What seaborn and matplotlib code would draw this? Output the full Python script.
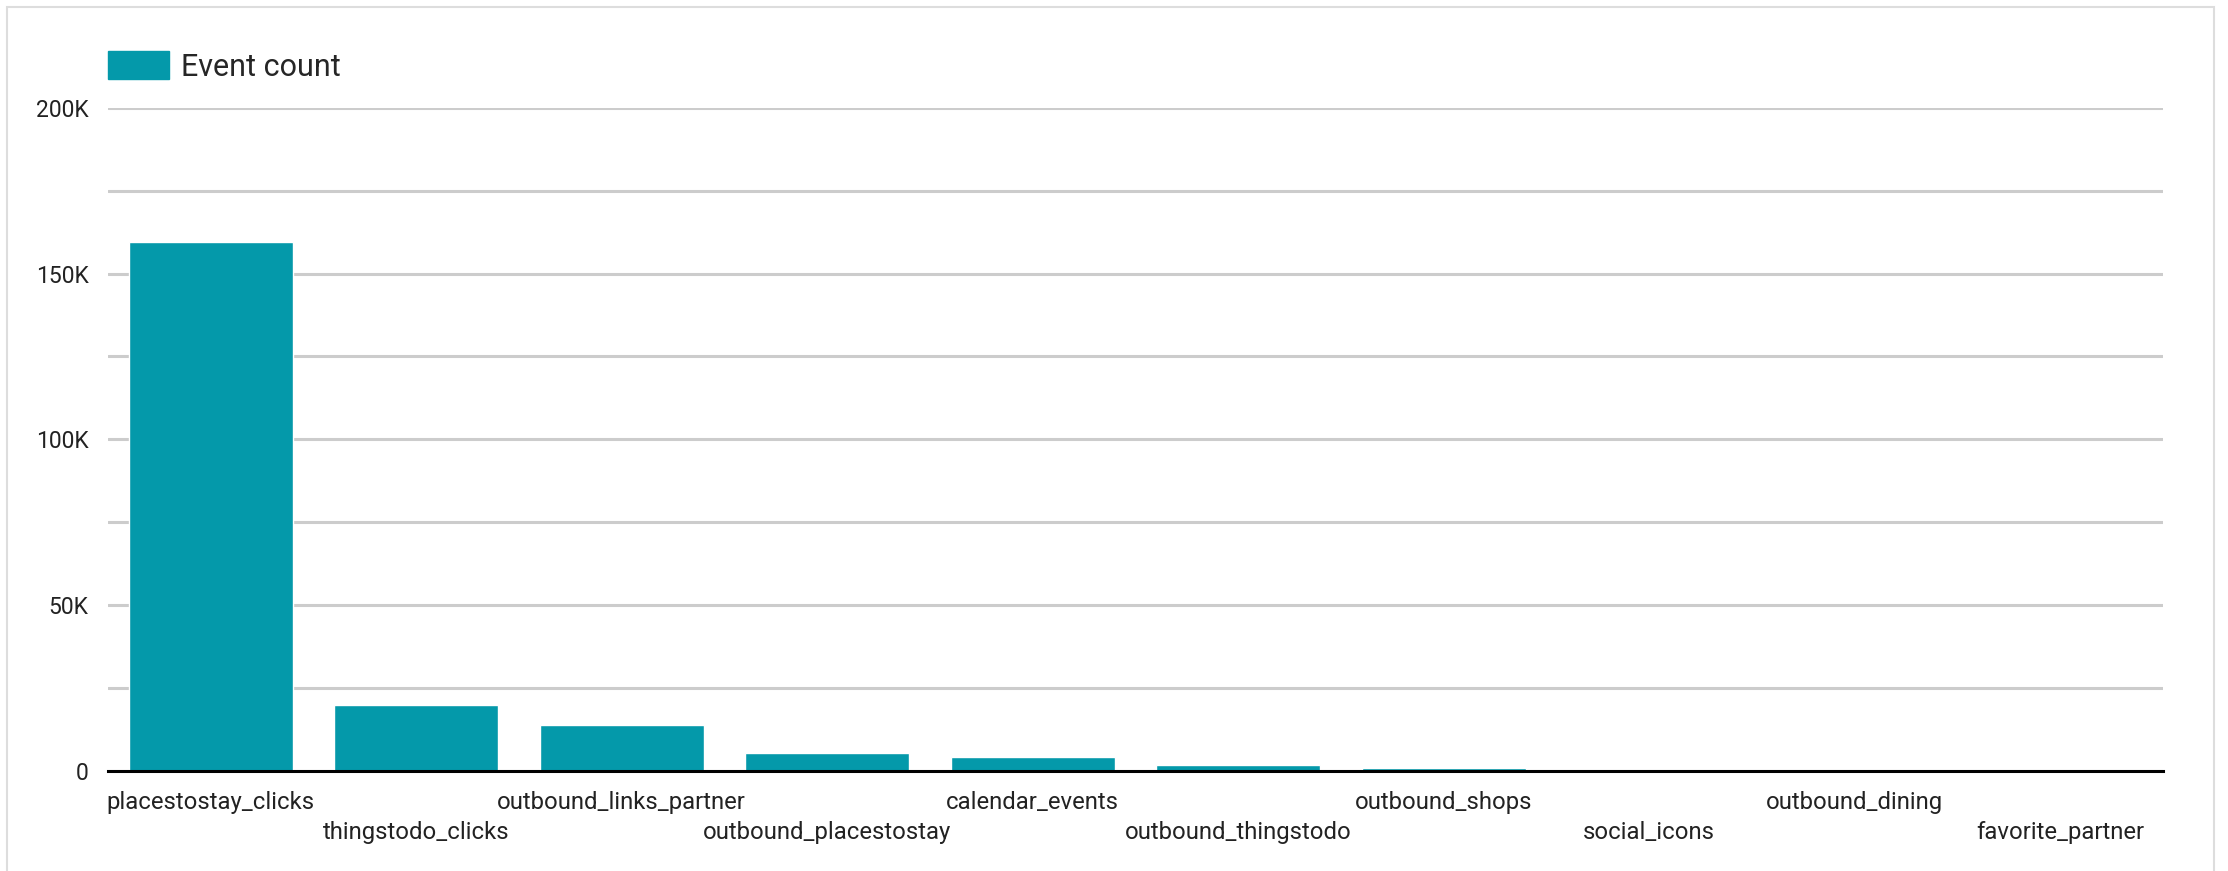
import pandas as pd
import matplotlib.pyplot as plt
import matplotlib.patches as mpatches
from matplotlib.ticker import FixedLocator, FuncFormatter
import seaborn as sns

# values
events = ["placestostay_clicks", "thingstodo_clicks", "outbound_links_partner",
          "outbound_placestostay", "calendar_events", "outbound_thingstodo",
          "outbound_shops", "social_icons", "outbound_dining", "favorite_partner"]
counts = [159600, 19800, 13800, 5300, 4100, 1700, 750, 80, 40, 10]
y_ticks = [0, 50000, 100000, 150000, 200000]
y_grid = [25000, 75000, 125000, 175000]

teal = "#0499aa"

sns.set_theme(style="white")
plt.rcParams["font.family"] = ["Roboto", "DejaVu Sans"]

df = pd.DataFrame({"event": events, "count": counts})

fig = plt.figure(figsize=(22.28, 8.71), dpi=100)
ax = fig.add_axes([108 / 2228, 1 - 770.5 / 871, (2163 - 108) / 2228, (770.5 - 108) / 871])

sns.barplot(data=df, x="event", y="count", color=teal, width=0.8,
            saturation=1, ax=ax, zorder=3)

ax.set_ylim(0, 200000)
ax.set_xlim(-0.5, len(events) - 0.5)
ax.yaxis.set_major_locator(FixedLocator(y_ticks))
ax.yaxis.set_minor_locator(FixedLocator(y_grid))
ax.yaxis.set_major_formatter(FuncFormatter(lambda v, p: "0" if v == 0 else f"{int(v / 1000)}K"))
ax.grid(axis="y", which="both", color="#cccccc", linewidth=2.2, zorder=0)
ax.set_axisbelow(True)

for s in ["top", "right", "left"]:
    ax.spines[s].set_visible(False)
ax.spines["bottom"].set_color("black")
ax.spines["bottom"].set_linewidth(2.2)
ax.spines["bottom"].set_zorder(5)

ax.set_xlabel("")
ax.set_ylabel("")
ax.tick_params(axis="y", which="both", length=0, labelsize=16.5, pad=14, labelcolor="#222222")
ax.tick_params(axis="x", length=0, labelsize=17.2, labelcolor="#222222", pad=14.5)
for i, t in enumerate(ax.xaxis.get_major_ticks()):
    if i % 2 == 1:
        t.set_pad(36.5)

# legend above the plot
handle = mpatches.Patch(color=teal, label="Event count")
ax.legend(handles=[handle], loc="upper left", frameon=False,
          bbox_to_anchor=(108 / 2228, 1 - 51 / 871), bbox_transform=fig.transFigure,
          borderaxespad=0, borderpad=0, fontsize=22, handlelength=2.0,
          handleheight=1.05, handletextpad=0.4)

# card border
fig.patches.append(mpatches.Rectangle((7 / 2228, -0.05), (2214 - 7) / 2228, 1.05 - 7 / 871,
                                      transform=fig.transFigure, fill=False,
                                      edgecolor="#dddddd", linewidth=1.5))

fig.savefig("out.png", dpi=100)
